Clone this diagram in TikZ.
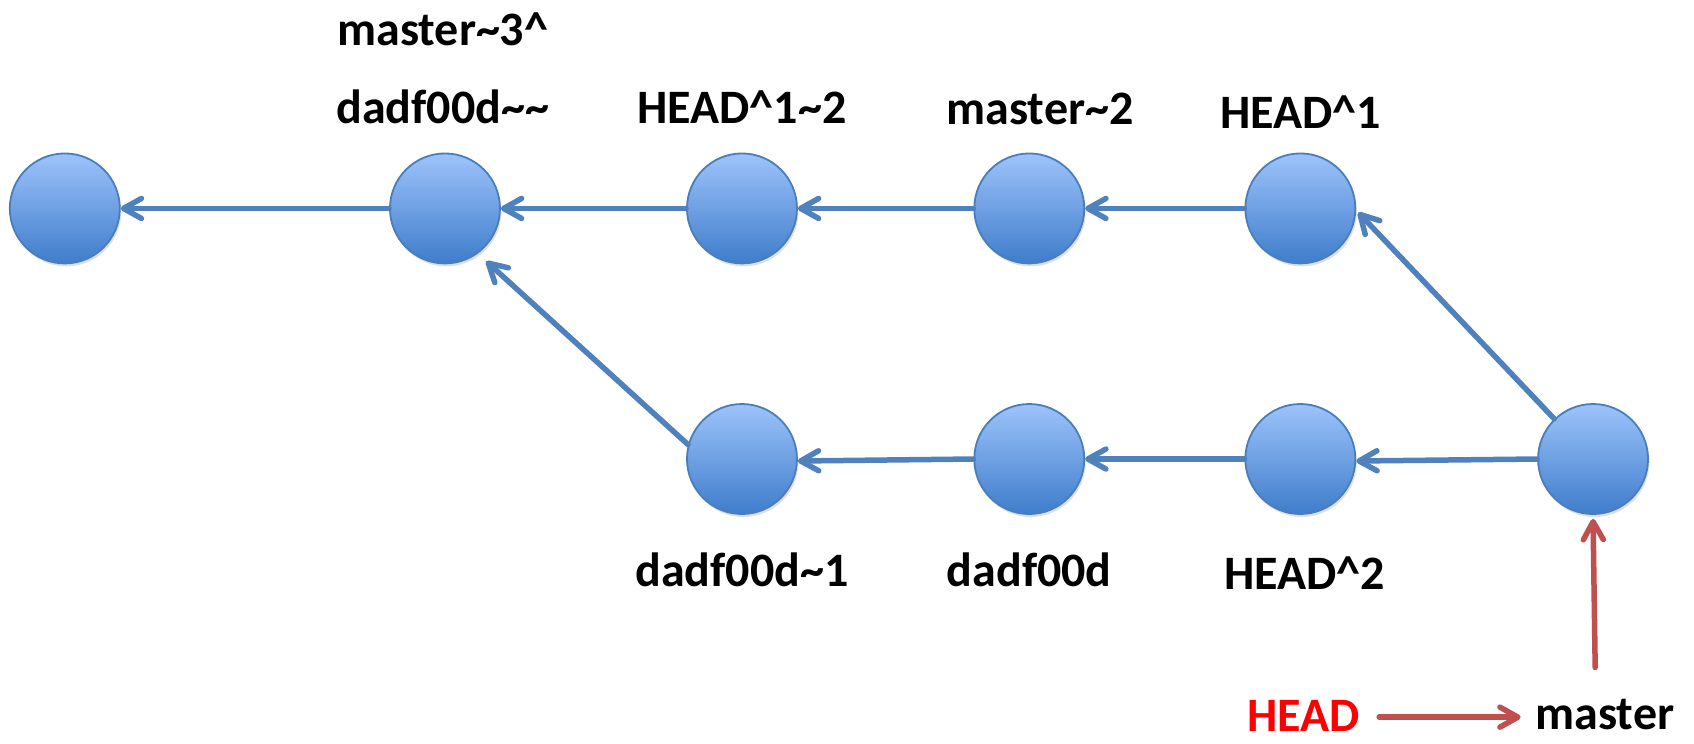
\documentclass[tikz,border=0pt]{standalone}
\usepackage{fontspec}
\setmainfont{Carlito}
\usetikzlibrary{arrows.meta,shadows,calc}
\definecolor{nodetop}{HTML}{9DC3FB}
\definecolor{nodebot}{HTML}{3F7DCB}
\definecolor{nodeedge}{HTML}{4A7EBB}
\definecolor{linkblue}{HTML}{4F81BD}
\definecolor{linkred}{HTML}{C0504D}
\tikzset{
  commit/.style={circle, minimum size=110pt, inner sep=0pt, draw=nodeedge, line width=1.8pt,
    top color=nodetop, bottom color=nodebot,
    drop shadow={shadow xshift=1.5pt, shadow yshift=-3pt, opacity=0.25}},
  lbl/.style={font=\fontsize{48}{54}\selectfont\bfseries, inner sep=0pt},
  link/.style={draw=linkblue, line width=5.5pt, line cap=round,
    -{Straight Barb[length=18pt, width=20pt, line cap=round, line join=round]}},
  redlink/.style={draw=linkred, line width=5.5pt, line cap=round,
    -{Straight Barb[length=18pt, width=20pt, line cap=round, line join=round]}}
}
\begin{document}
\begin{tikzpicture}[x=1.08pt,y=-1.08pt]
\useasboundingbox (0,0) rectangle (1568.5,688);
% commits
\node[commit] (c1) at (60,193) {};
\node[commit] (c2) at (412,193) {};
\node[commit] (c3) at (687,193) {};
\node[commit] (c4) at (953,193) {};
\node[commit] (c5) at (1204,193) {};
\node[commit] (d1) at (687,425) {};
\node[commit] (d2) at (953,425) {};
\node[commit] (d3) at (1204,425) {};
\node[commit] (m) at (1475,425) {};
% labels
\node[lbl] (l2a) at (410,27) {master\textasciitilde3\textasciicircum};
\node[lbl] (l2b) at (410,99) {dadf00d\textasciitilde\textasciitilde};
\node[lbl] (l3) at (687,99) {HEAD\textasciicircum1\textasciitilde2};
\node[lbl] (l4) at (963,101) {master\textasciitilde2};
\node[lbl] (l5) at (1204,104) {HEAD\textasciicircum1};
\node[lbl] (ld1) at (687,528) {dadf00d\textasciitilde1};
\node[lbl] (ld2) at (953,528) {dadf00d};
\node[lbl] (ld3) at (1208,531) {HEAD\textasciicircum2};
\node[lbl, text=red, anchor=base] (head) at (1207,677) {HEAD};
\node[lbl, anchor=base] (master) at (1486,675) {master};
% links
\draw[link] (c2) -- (c1);
\draw[link] (c3) -- (c2);
\draw[link] (c4) -- (c3);
\draw[link] (c5) -- (c4);
\draw[link] (m.134) -- ($(c5.center)+(-4:58pt)$);
\draw[link] (m.west) -- ([yshift=-2pt]d3.east);
\draw[link] (d3) -- (d2);
\draw[link] (d2.west) -- ([yshift=-2pt]d1.east);
\draw[link] (d1.165) -- ($(c2.center)+(-52:67pt)$);
\coordinate (mt) at (1477,618);
\coordinate (hs) at (1277,664);
\coordinate (me) at (1408,664);
\draw[redlink] (mt) -- ([yshift=-4pt]m.south);
\draw[redlink] (hs) -- (me);
\end{tikzpicture}
\end{document}
